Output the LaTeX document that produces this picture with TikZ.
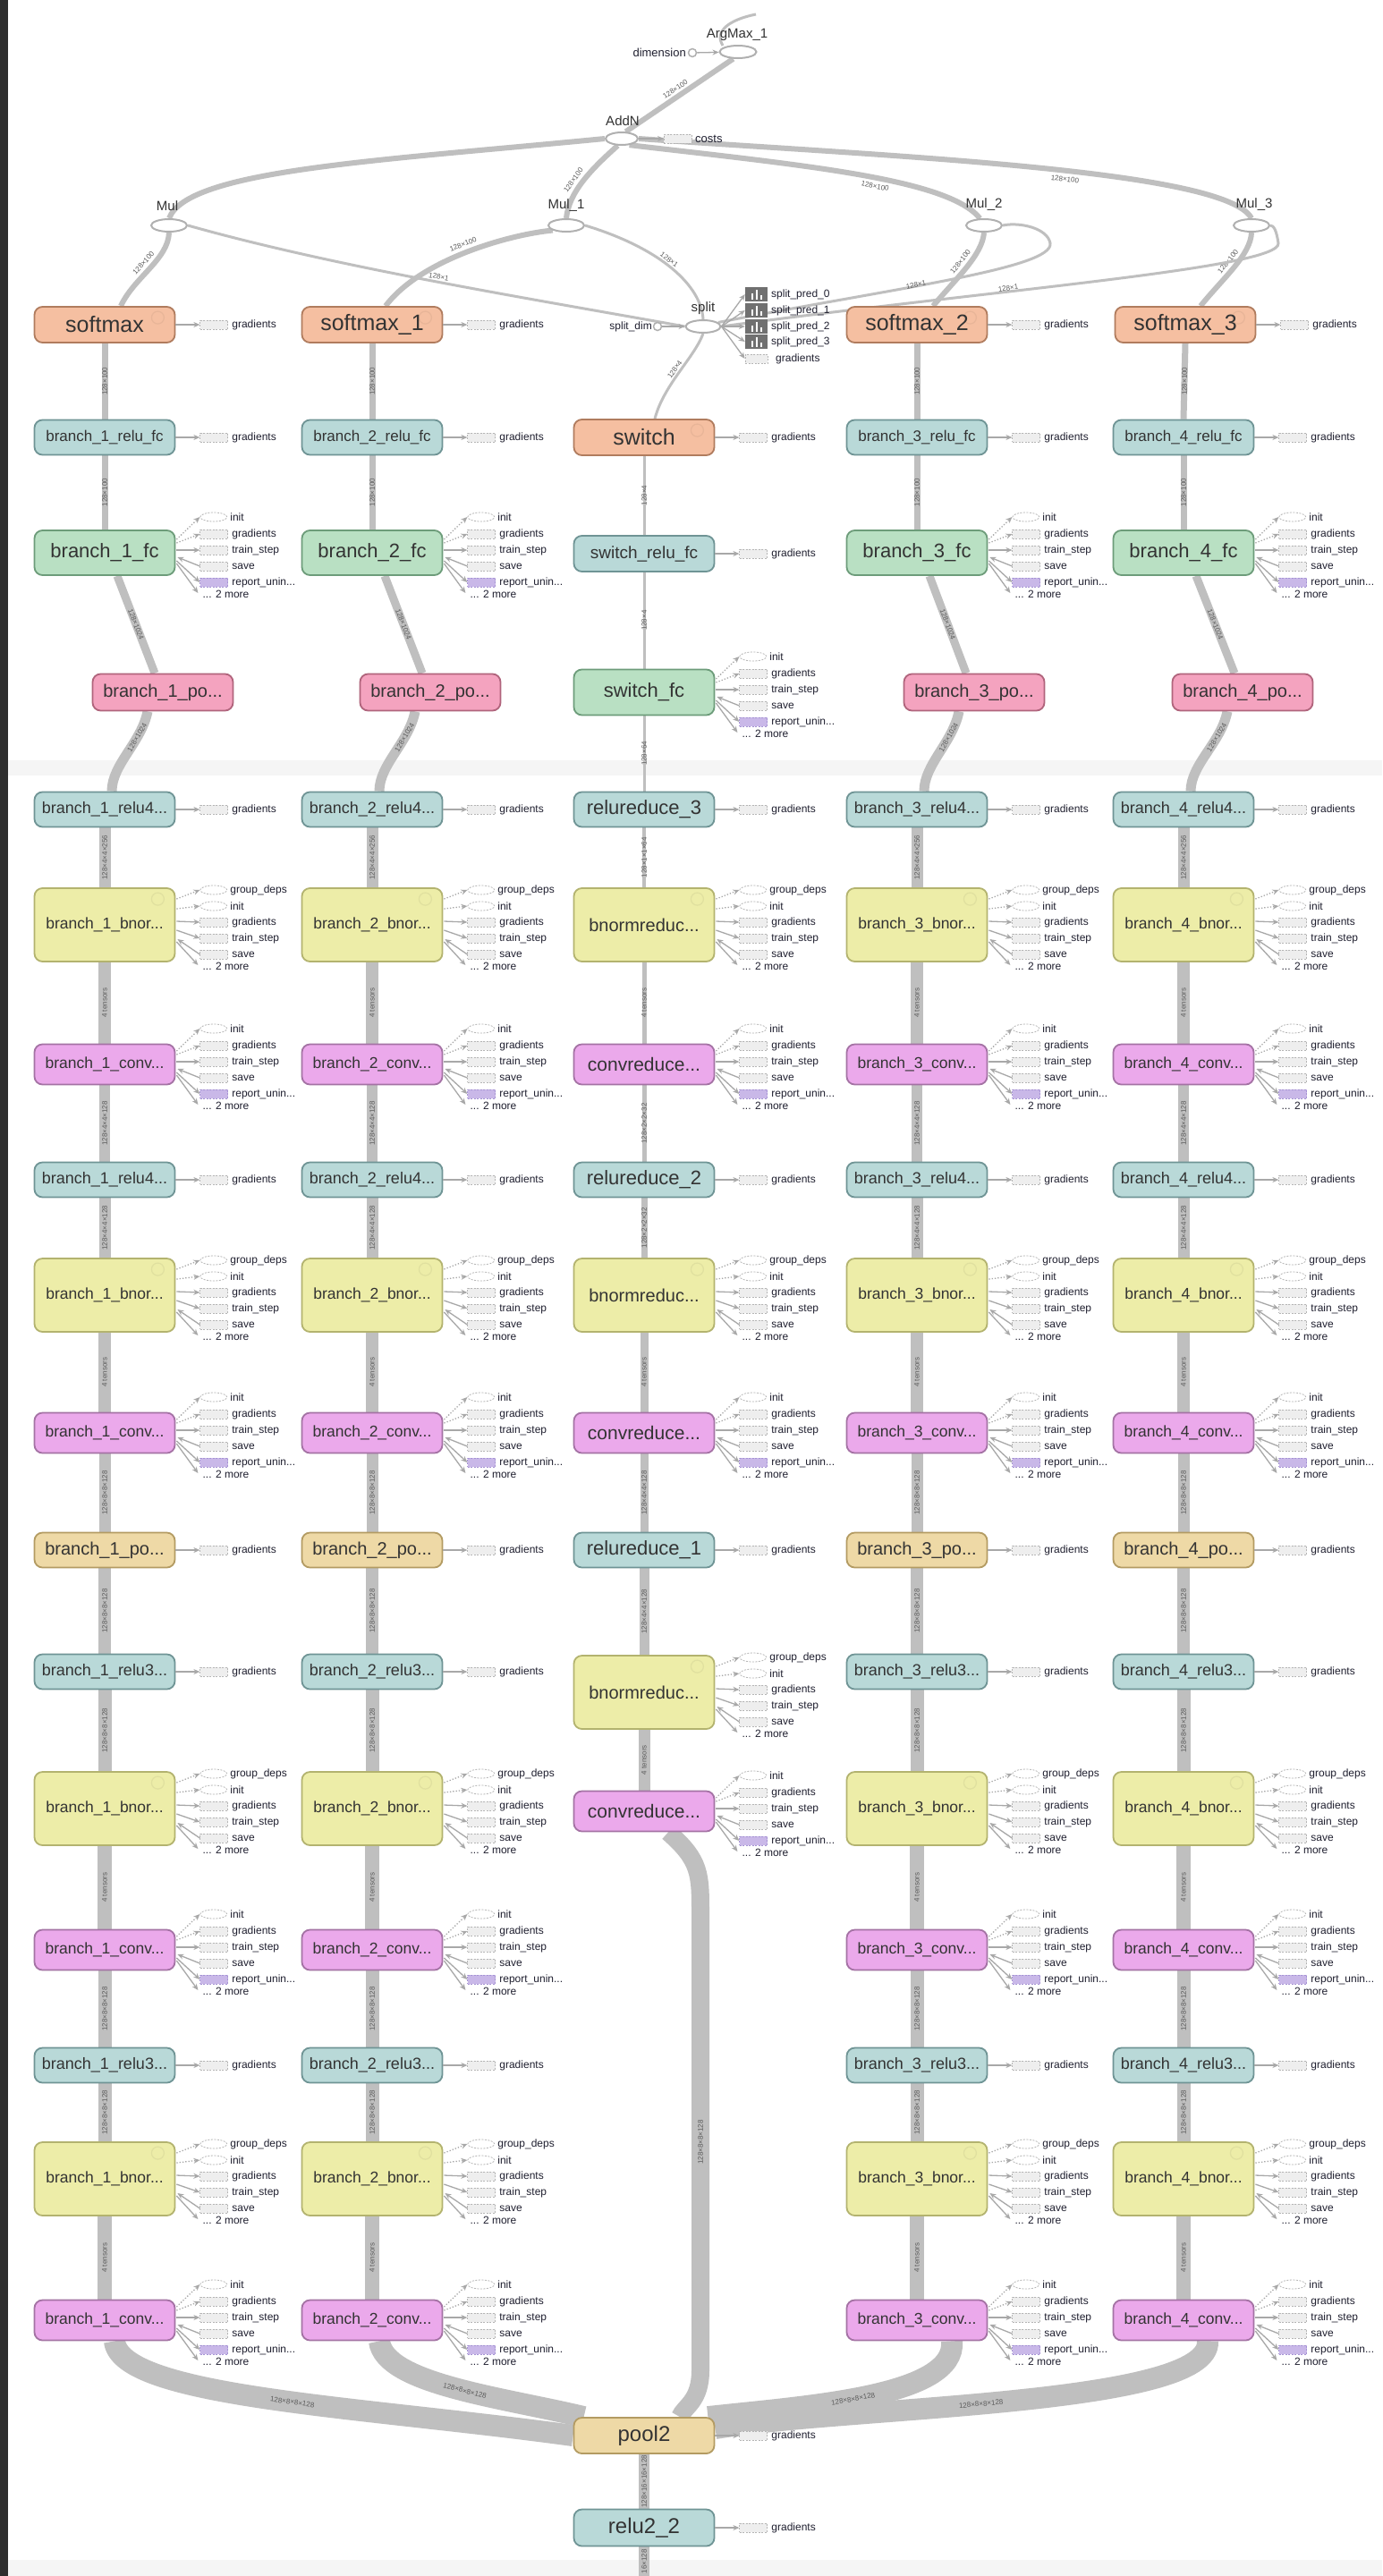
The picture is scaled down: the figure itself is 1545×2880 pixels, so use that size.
\documentclass[tikz,border=0pt]{standalone}
\usepackage{fontspec}
\setmainfont{Liberation Sans}
\usetikzlibrary{arrows.meta,shapes.geometric,calc}
\pgfdeclarelayer{back}
\pgfdeclarelayer{bg}
\pgfsetlayers{back,bg,main}
\newcommand\fs[1]{\fontsize{#1}{#1}\selectfont}
\definecolor{edgec}{HTML}{BFBFBF}
\definecolor{elabc}{HTML}{5A5A5A}
\definecolor{sfFill}{HTML}{F5BFA1}\definecolor{sfLine}{HTML}{B07C5E}
\definecolor{reFill}{HTML}{B9D9D8}\definecolor{reLine}{HTML}{6F9495}
\definecolor{fcFill}{HTML}{B9E0C3}\definecolor{fcLine}{HTML}{6D9C7A}
\definecolor{poFill}{HTML}{F4A3BF}\definecolor{poLine}{HTML}{B0647C}
\definecolor{bnFill}{HTML}{EDEDA8}\definecolor{bnLine}{HTML}{B3B36F}
\definecolor{cvFill}{HTML}{EBA9EB}\definecolor{cvLine}{HTML}{A472A4}
\definecolor{plFill}{HTML}{EED9A6}\definecolor{plLine}{HTML}{B39B62}
\definecolor{auxFill}{HTML}{EEEEEE}\definecolor{auxLine}{HTML}{B5B5B5}
\definecolor{rpFill}{HTML}{C9B8E8}\definecolor{rpLine}{HTML}{A593D3}
\definecolor{txt}{HTML}{333333}
\definecolor{sidec}{HTML}{202030}
\definecolor{annc}{HTML}{A8A8A8}
\definecolor{ellc}{HTML}{B0B0B0}
\definecolor{stripe}{HTML}{F5F5F5}
\definecolor{darkbar}{HTML}{2E2E2E}
\definecolor{stackc}{HTML}{707070}

\newcommand\gside[1]{%
  \node[auxbox,anchor=west] (#1g) at ($(#1.east)+(27,0)$) {};
  \draw[ann] (#1.east) -- (#1g.west);
  \node[sidelab] at ($(#1g.east)+(4,0)$) {gradients};}

\newcommand\fcside[1]{%
  \node[auxell,anchor=west] (#1i) at ($(#1.east)+(27,-40)$) {};
  \node[auxbox,anchor=west] (#1gr) at ($(#1.east)+(27,-21)$) {};
  \node[auxbox,anchor=west] (#1ts) at ($(#1.east)+(27,-3)$) {};
  \node[auxbox,anchor=west] (#1sv) at ($(#1.east)+(27,15)$) {};
  \node[rpbox,anchor=west] (#1rp) at ($(#1.east)+(27,33)$) {};
  \coordinate (#1mo) at ($(#1.east)+(25,45)$);
  \node[sidelab] at ($(#1i.east)+(3,0)$) {init};
  \node[sidelab] at ($(#1gr.east)+(4,0)$) {gradients};
  \node[sidelab] at ($(#1ts.east)+(4,0)$) {train\_step};
  \node[sidelab] at ($(#1sv.east)+(4,0)$) {save};
  \node[sidelab] at ($(#1rp.east)+(4,0)$) {report\_unin...};
  \node[sidelab] at ($(#1.east)+(30,46)$) {... 2 more};
  \draw[ann,dotted] ($(#1.east)+(1,-15)$) -- (#1i.west);
  \draw[ann,dotted] ($(#1.east)+(1,-11)$) -- (#1gr.west);
  \draw[ann] ($(#1.east)+(1,-3)$) -- (#1ts.west);
  \draw[ann] (#1sv.west) -- ($(#1.east)+(2,5)$);
  \draw[ann] ($(#1.east)+(1,9)$) -- (#1rp.west);
  \draw[ann] ($(#1.east)+(1,12)$) -- (#1mo);}

\newcommand\bnside[1]{%
  \node[auxell,anchor=west] (#1q) at ($(#1.east)+(27,-39)$) {};
  \node[auxell,anchor=west] (#1i) at ($(#1.east)+(27,-21)$) {};
  \node[auxbox,anchor=west] (#1gr) at ($(#1.east)+(27,-3)$) {};
  \node[auxbox,anchor=west] (#1ts) at ($(#1.east)+(27,15)$) {};
  \node[auxbox,anchor=west] (#1sv) at ($(#1.east)+(27,33)$) {};
  \coordinate (#1mo) at ($(#1.east)+(25,45)$);
  \node[sidelab] at ($(#1q.east)+(3,0)$) {group\_deps};
  \node[sidelab] at ($(#1i.east)+(3,0)$) {init};
  \node[sidelab] at ($(#1gr.east)+(4,0)$) {gradients};
  \node[sidelab] at ($(#1ts.east)+(4,0)$) {train\_step};
  \node[sidelab] at ($(#1sv.east)+(4,0)$) {save};
  \node[sidelab] at ($(#1.east)+(30,46)$) {... 2 more};
  \draw[ann,dotted] ($(#1.east)+(1,-29)$) -- (#1q.west);
  \draw[ann,dotted] ($(#1.east)+(1,-18)$) -- (#1i.west);
  \draw[ann] ($(#1.east)+(1,-4)$) -- (#1gr.west);
  \draw[ann] ($(#1.east)+(1,6)$) -- (#1ts.west);
  \draw[ann] (#1sv.west) -- ($(#1.east)+(2,16)$);
  \draw[ann] ($(#1.east)+(1,19)$) -- (#1mo);}

\newcommand\gicon[1]{\draw[line width=1.3, opacity=0.05] ($(#1.north east)+(-20,13)$) circle[radius=7pt];}

\begin{document}
\begin{tikzpicture}[x=1pt,y=-1pt,
  edge/.style={draw=edgec, line cap=butt},
  elab/.style={font=\fs{8}, text=elabc, inner sep=0.5},
  mn/.style={draw, rounded corners=9, line width=1.8, minimum width=157, minimum height=#1, inner sep=0, text=txt},
  st-sf/.style={fill=sfFill, draw=sfLine},
  st-re/.style={fill=reFill, draw=reLine},
  st-fc/.style={fill=fcFill, draw=fcLine},
  st-po/.style={fill=poFill, draw=poLine},
  st-bn/.style={fill=bnFill, draw=bnLine},
  st-cv/.style={fill=cvFill, draw=cvLine},
  st-pl/.style={fill=plFill, draw=plLine},
  opell/.style={ellipse, draw=ellc, fill=white, line width=2, minimum width=40, minimum height=14, inner sep=0},
  auxbox/.style={draw=auxLine, dash pattern=on 2pt off 1.5pt, fill=auxFill, minimum width=31, minimum height=10, inner sep=0, line width=0.8},
  auxell/.style={ellipse, draw=auxLine, dash pattern=on 2pt off 1.5pt, fill=white, minimum width=30, minimum height=10, inner sep=0, line width=0.8},
  rpbox/.style={auxbox, fill=rpFill, draw=rpLine},
  sidelab/.style={anchor=west, font=\fs{12}, text=sidec, inner sep=0},
  ann/.style={draw=annc, line width=1.3, -{Stealth[length=7,width=6]}},
  nlab/.style={font=\fs{15}, text=txt, inner sep=0}]
\useasboundingbox (0,0) rectangle (1545,2880);
\begin{pgfonlayer}{back}
  \fill[white] (0,0) rectangle (1545,2880);
  \fill[stripe] (9,850) rectangle (1545,867);
  \fill[stripe] (9,2862) rectangle (1545,2880);
  \fill[darkbar] (0,0) rectangle (9,2880);
\end{pgfonlayer}

% ---------- top operations ----------
\node[opell, minimum width=41] (argmax) at (825,58) {};
\node[nlab] at (824,39) {ArgMax\_1};
\node[circle, draw=ellc, line width=1.5, minimum size=9, inner sep=0, fill=white] (dimc) at (774,59) {};
\node[sidelab, anchor=east, font=\fs{13}] at (767,59) {dimension};
\draw[ann] (dimc) -- (argmax);

\node[opell, minimum width=36] (addn) at (695,155) {};
\node[nlab] at (696,135) {AddN};
\node[auxbox, anchor=west] (costs) at (742,155) {};
\node[sidelab, font=\fs{13}] at (777,155) {costs};
\draw[ann] (addn) -- (costs);

\node[opell] (mul0) at (189,252) {}; \node[nlab] at (187,230) {Mul};
\node[opell] (mul1) at (633,252) {}; \node[nlab] at (633,230) {Mul\_1};
\node[opell] (mul2) at (1100,252) {}; \node[nlab] at (1100,229) {Mul\_2};
\node[opell] (mul3) at (1399,252) {}; \node[nlab] at (1402,229) {Mul\_3};

\node[opell, minimum width=39] (split) at (786,365) {};
\node[nlab] at (786,345) {split};
\node[circle, draw=ellc, line width=1.5, minimum size=9, inner sep=0, fill=white] (spdim) at (735,365) {};
\node[sidelab, anchor=east] at (729,365) {split\_dim};
\draw[ann] (spdim) -- (split);
\foreach \k/\yy in {0/329,1/347,2/365,3/382}{
  \node[fill=stackc, minimum width=25, minimum height=16.5, inner sep=0] (sp\k) at (845.5,\yy) {};
  \fill[white] ($(sp\k.center)+(-6,6)$) rectangle ++(2,-7);
  \fill[white] ($(sp\k.center)+(-1,6)$) rectangle ++(2,-11);
  \fill[white] ($(sp\k.center)+(4,6)$) rectangle ++(2,-5);
  \node[sidelab] at (862,\yy) {split\_pred\_\k};
  \draw[ann] (split.east) -- (sp\k.west);
}
\node[auxbox, minimum width=25] (spg) at (845.5,401) {};
\node[sidelab] at (867,401) {gradients};
\draw[ann] (split.east) -- (spg.west);

% ---------- softmax row ----------
\node[mn=40, st-sf, font=\fs{25}] (sm1) at (117,363) {softmax};
\node[mn=40, st-sf, font=\fs{25}] (sm2) at (416,363) {softmax\_1};
\node[mn=40, st-sf, font=\fs{25}] (sm3) at (1025,363) {softmax\_2};
\node[mn=40, st-sf, font=\fs{25}] (sm4) at (1325,363) {softmax\_3};
\foreach \k in {1,2,3,4}{\gside{sm\k}\gicon{sm\k}}

% ---------- branch columns ----------
\foreach \k/\x/\px in {1/117/182, 2/416/481, 3/1025/1089, 4/1323/1389}{
  \node[mn=39, st-re, font=\fs{17}] (rf\k) at (\x,489) {branch\_\k\_relu\_fc};
  \node[mn=50, st-fc, font=\fs{22}] (fc\k) at (\x,618) {branch\_\k\_fc};
  \node[mn=41, st-po, font=\fs{20}] (po\k) at (\px,774) {branch\_\k\_po...};
  \node[mn=39, st-re, font=\fs{18}] (ra\k) at (\x,905) {branch\_\k\_relu4...};
  \node[mn=82, st-bn, font=\fs{17.5}] (ba\k) at (\x,1034) {branch\_\k\_bnor...};
  \node[mn=45, st-cv, font=\fs{17.5}] (ca\k) at (\x,1190) {branch\_\k\_conv...};
  \node[mn=39, st-re, font=\fs{18}] (rb\k) at (\x,1319) {branch\_\k\_relu4...};
  \node[mn=82, st-bn, font=\fs{17.5}] (bb\k) at (\x,1448) {branch\_\k\_bnor...};
  \node[mn=45, st-cv, font=\fs{17.5}] (cb\k) at (\x,1602) {branch\_\k\_conv...};
  \node[mn=39, st-pl, font=\fs{20}] (pa\k) at (\x,1733) {branch\_\k\_po...};
  \node[mn=39, st-re, font=\fs{18}] (rc\k) at (\x,1869) {branch\_\k\_relu3...};
  \node[mn=82, st-bn, font=\fs{17.5}] (bc\k) at (\x,2022) {branch\_\k\_bnor...};
  \node[mn=45, st-cv, font=\fs{17.5}] (cc\k) at (\x,2180) {branch\_\k\_conv...};
  \node[mn=39, st-re, font=\fs{18}] (rd\k) at (\x,2309) {branch\_\k\_relu3...};
  \node[mn=82, st-bn, font=\fs{17.5}] (bd\k) at (\x,2436) {branch\_\k\_bnor...};
  \node[mn=45, st-cv, font=\fs{17.5}] (cd\k) at (\x,2594) {branch\_\k\_conv...};
  \gside{rf\k}\fcside{fc\k}\gside{ra\k}\bnside{ba\k}\fcside{ca\k}
  \gside{rb\k}\bnside{bb\k}\fcside{cb\k}\gside{pa\k}\gside{rc\k}
  \bnside{bc\k}\fcside{cc\k}\gside{rd\k}\bnside{bd\k}\fcside{cd\k}
  \gicon{ba\k}\gicon{bb\k}\gicon{bc\k}\gicon{bd\k}
}

% ---------- centre column ----------
\node[mn=40, st-sf, font=\fs{25}] (sw) at (720,489) {switch};
\node[mn=40, st-re, font=\fs{19}] (swrf) at (720,619) {switch\_relu\_fc};
\node[mn=51, st-fc, font=\fs{22}] (swfc) at (720,774) {switch\_fc};
\node[mn=39, st-re, font=\fs{22}] (zr3) at (720,905) {relureduce\_3};
\node[mn=82, st-bn, font=\fs{20}] (zb3) at (720,1034) {bnormreduc...};
\node[mn=45, st-cv, font=\fs{21}] (zc3) at (720,1190) {convreduce...};
\node[mn=39, st-re, font=\fs{22}] (zr2) at (720,1319) {relureduce\_2};
\node[mn=82, st-bn, font=\fs{20}] (zb2) at (720,1448) {bnormreduc...};
\node[mn=45, st-cv, font=\fs{21}] (zc2) at (720,1602) {convreduce...};
\node[mn=39, st-re, font=\fs{22}] (zr1) at (720,1733) {relureduce\_1};
\node[mn=82, st-bn, font=\fs{20}] (zb1) at (720,1892) {bnormreduc...};
\node[mn=45, st-cv, font=\fs{21}] (zc1) at (720,2025) {convreduce...};
\node[mn=40, st-pl, font=\fs{24}] (pool2) at (720,2723) {pool2};
\node[mn=41, st-re, font=\fs{24}] (relu22) at (720,2826) {relu2\_2};
\coordinate (bottom) at (720,2880);
\gside{sw}\gside{swrf}\fcside{swfc}\gside{zr3}\bnside{zb3}\fcside{zc3}
\gside{zr2}\bnside{zb2}\fcside{zc2}\gside{zr1}\bnside{zb1}\fcside{zc1}
\gside{pool2}\gside{relu22}
\gicon{sw}\gicon{zb3}\gicon{zb2}\gicon{zb1}

% ---------- edges ----------
\begin{pgfonlayer}{bg}
\draw[edge, line width=3] (808,51) .. controls (798,35) and (815,22) .. (845,16);
\draw[edge, line width=6] (addn.60) -- (argmax.235) node[midway, sloped, above=2pt, elab]{128×100};
\draw[edge, line width=6] (addn.west) .. controls (420,180) and (210,190) .. (mul0.north);
\draw[edge, line width=6] (addn.240) .. controls (660,190) and (636,215) .. (mul1.north) node[pos=0.55, sloped, above=3pt, elab]{128×100};
\draw[edge, line width=6] (addn.320) .. controls (900,185) and (1060,200) .. (mul2.120) node[pos=0.55, sloped, below=3pt, elab]{128×100};
\draw[edge, line width=6] (addn.east) .. controls (1000,175) and (1370,190) .. (mul3.north) node[pos=0.55, sloped, below=3pt, elab]{128×100};
\draw[edge, line width=6] ($(sm1.north)+(18,0)$) .. controls (150,310) and (188,290) .. (mul0.south) node[midway, sloped, above=3pt, elab]{128×100};
\draw[edge, line width=3] (mul0.east) .. controls (380,300) and (600,335) .. (split.west) node[pos=0.5, sloped, above=1pt, elab]{128×1};
\draw[edge, line width=6] ($(sm2.north)+(15,0)$) .. controls (470,290) and (570,262) .. (mul1.200) node[midway, sloped, above=3pt, elab]{128×100};
\draw[edge, line width=3] (mul1.east) .. controls (740,278) and (784,320) .. (split.north) node[pos=0.45, sloped, above=1pt, elab]{128×1};
\draw[edge, line width=6] ($(sm3.north)+(18,0)$) .. controls (1070,310) and (1098,285) .. (mul2.south) node[midway, sloped, above=3pt, elab]{128×100};
\draw[edge, line width=3] (split.15) .. controls (1000,322) and (1178,300) .. (1174,272) .. controls (1171,255) and (1140,248) .. (mul2.east);
\node[elab, rotate=12] at (1024,318) {128×1};
\draw[edge, line width=6] ($(sm4.north)+(17,0)$) .. controls (1368,310) and (1398,285) .. (mul3.south) node[midway, sloped, above=3pt, elab]{128×100};
\draw[edge, line width=3] (split.east) .. controls (1100,325) and (1432,300) .. (1429,272) .. controls (1427,258) and (1424,252) .. (mul3.east);
\node[elab, rotate=8] at (1127,322) {128×1};
\draw[edge, line width=3] ($(sw.north)+(12,0)$) .. controls (742,430) and (776,400) .. (split.south) node[midway, sloped, above=1pt, elab]{128×4};

\foreach \k in {1,2,3,4}{
  \draw[edge, line width=7] (sm\k.south) -- (rf\k.north) node[midway, rotate=90, elab]{128×100};
  \draw[edge, line width=7] (rf\k.south) -- (fc\k.north) node[midway, rotate=90, elab]{128×100};
  \draw[edge, line width=9] ($(fc\k.south)+(14,0)$) -- ($(po\k.north)+(-9,0)$) node[midway, sloped, elab]{128×1024};
  \draw[edge, line width=11] ($(po\k.south)+(-17,0)$) .. controls ($(po\k.south)+(-24,35)$) and ($(ra\k.north)+(8,-30)$) .. ($(ra\k.north)+(8,0)$) node[pos=0.3, sloped, elab]{128×1024};
  \draw[edge, line width=13] (ra\k.south) -- (ba\k.north) node[midway, rotate=90, elab]{128×4×4×256};
  \draw[edge, line width=14] (ba\k.south) -- (ca\k.north) node[midway, rotate=90, elab]{4 tensors};
  \draw[edge, line width=12] (ca\k.south) -- (rb\k.north) node[midway, rotate=90, elab]{128×4×4×128};
  \draw[edge, line width=13] (rb\k.south) -- (bb\k.north) node[midway, rotate=90, elab]{128×4×4×128};
  \draw[edge, line width=14] (bb\k.south) -- (cb\k.north) node[midway, rotate=90, elab]{4 tensors};
  \draw[edge, line width=13] (cb\k.south) -- (pa\k.north) node[midway, rotate=90, elab]{128×8×8×128};
  \draw[edge, line width=14] (pa\k.south) -- (rc\k.north) node[midway, rotate=90, elab]{128×8×8×128};
  \draw[edge, line width=15] (rc\k.south) -- (bc\k.north) node[midway, rotate=90, elab]{128×8×8×128};
  \draw[edge, line width=16] (bc\k.south) -- (cc\k.north) node[midway, rotate=90, elab]{4 tensors};
  \draw[edge, line width=15] (cc\k.south) -- (rd\k.north) node[midway, rotate=90, elab]{128×8×8×128};
  \draw[edge, line width=15] (rd\k.south) -- (bd\k.north) node[midway, rotate=90, elab]{128×8×8×128};
  \draw[edge, line width=16] (bd\k.south) -- (cd\k.north) node[midway, rotate=90, elab]{4 tensors};
}
\draw[edge, line width=24] ($(cd1.south)+(11,0)$) .. controls (135,2680) and (400,2690) .. (pool2.west) node[pos=0.55, sloped, elab]{128×8×8×128};
\draw[edge, line width=24] ($(cd2.south)+(8,0)$) .. controls (430,2665) and (560,2680) .. ($(pool2.north west)+(12,0)$) node[pos=0.55, sloped, elab]{128×8×8×128};
\draw[edge, line width=24] ($(cd3.south)+(39,0)$) .. controls (1070,2680) and (900,2690) .. ($(pool2.north east)+(-8,0)$) node[pos=0.55, sloped, elab]{128×8×8×128};
\draw[edge, line width=24] ($(cd4.south)+(27,0)$) .. controls (1355,2690) and (950,2690) .. ($(pool2.east)+(0,-8)$) node[pos=0.55, sloped, elab]{128×8×8×128};

\draw[edge, line width=3] (sw.south) -- (swrf.north) node[midway, rotate=90, elab]{128×4};
\draw[edge, line width=3] (swrf.south) -- (swfc.north) node[midway, rotate=90, elab]{128×4};
\draw[edge, line width=3] (swfc.south) -- (zr3.north) node[midway, rotate=90, elab]{128×64};
\draw[edge, line width=4] (zr3.south) -- (zb3.north) node[midway, rotate=90, elab]{128×1×1×64};
\draw[edge, line width=5] (zb3.south) -- (zc3.north) node[midway, rotate=90, elab]{4 tensors};
\draw[edge, line width=5] (zc3.south) -- (zr2.north) node[midway, rotate=90, elab]{128×2×2×32};
\draw[edge, line width=7] (zr2.south) -- (zb2.north) node[midway, rotate=90, elab]{128×2×2×32};
\draw[edge, line width=9] (zb2.south) -- (zc2.north) node[midway, rotate=90, elab]{4 tensors};
\draw[edge, line width=9] (zc2.south) -- (zr1.north) node[midway, rotate=90, elab]{128×4×4×128};
\draw[edge, line width=11] (zr1.south) -- (zb1.north) node[midway, rotate=90, elab]{128×4×4×128};
\draw[edge, line width=13] (zb1.south) -- (zc1.north) node[midway, rotate=90, elab]{4 tensors};
\draw[edge, line width=20] ($(zc1.south)+(27,0)$) .. controls (783,2080) and (783,2095) .. (783,2140) -- (783,2650) node[midway, rotate=90, elab]{128×8×8×128} .. controls (783,2685) and (765,2690) .. ($(pool2.north)+(40,0)$);
\draw[edge, line width=12] (pool2.south) -- (relu22.north) node[midway, rotate=90, elab]{128×16×16×128};
\draw[edge, line width=12] (relu22.south) -- (bottom) node[midway, rotate=90, elab]{16×128};
\end{pgfonlayer}
\end{tikzpicture}
\end{document}
